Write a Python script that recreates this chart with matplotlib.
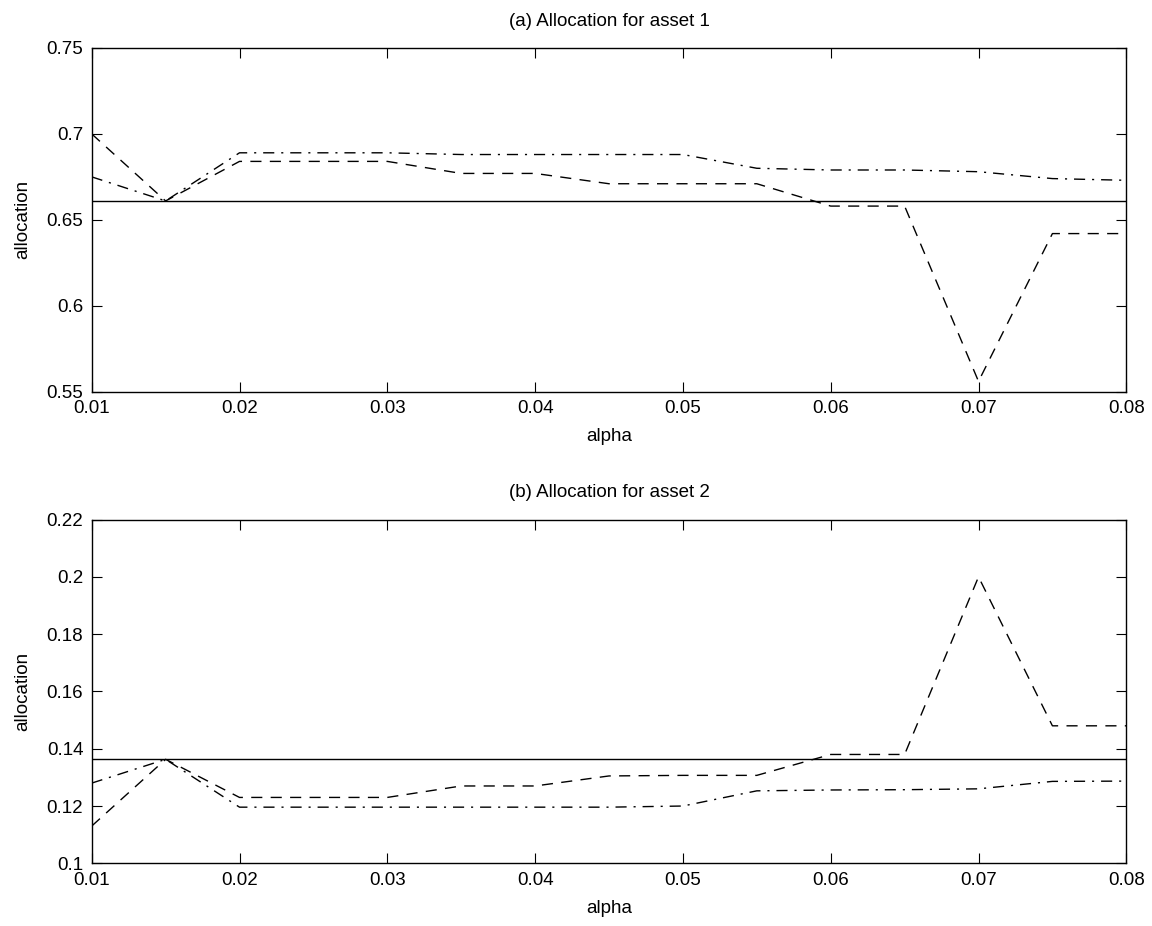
import matplotlib.pyplot as plt
from matplotlib.ticker import FuncFormatter

plt.rcParams['font.family'] = ['Liberation Sans', 'DejaVu Sans']

alpha = [0.01, 0.015, 0.02, 0.025, 0.03, 0.035, 0.04, 0.045,
         0.05, 0.055, 0.06, 0.065, 0.07, 0.075, 0.08]

# asset 1
a1_dashed = [0.700, 0.661, 0.684, 0.684, 0.684, 0.677, 0.677, 0.671,
             0.671, 0.671, 0.658, 0.658, 0.556, 0.642, 0.642]
a1_dashdot = [0.675, 0.661, 0.689, 0.689, 0.689, 0.688, 0.688, 0.688,
              0.688, 0.680, 0.679, 0.679, 0.678, 0.674, 0.673]
a1_flat = 0.661

# asset 2
a2_dashed = [0.113, 0.1363, 0.123, 0.123, 0.123, 0.127, 0.127, 0.1305,
             0.1307, 0.1307, 0.138, 0.138, 0.200, 0.148, 0.148]
a2_dashdot = [0.128, 0.1363, 0.1196, 0.1196, 0.1196, 0.1196, 0.1196, 0.1196,
              0.120, 0.1253, 0.1256, 0.1257, 0.126, 0.1286, 0.1287]
a2_flat = 0.1363

panels = [
    ('(a) Allocation for asset 1', a1_dashed, a1_dashdot, a1_flat,
     (0.55, 0.75), [0.55, 0.6, 0.65, 0.7, 0.75]),
    ('(b) Allocation for asset 2', a2_dashed, a2_dashdot, a2_flat,
     (0.1, 0.22), [0.1, 0.12, 0.14, 0.16, 0.18, 0.2, 0.22]),
]

fig = plt.figure(figsize=(11.52, 9.26), dpi=100)
boxes = [[0.0796, 0.577, 0.8981, 0.3712], [0.0796, 0.0677, 0.8981, 0.3712]]

for box, (title, dashed, dashdot, flat, ylim, yticks) in zip(boxes, panels):
    ax = fig.add_axes(box)
    ax.plot(alpha, [flat] * len(alpha), color='black', lw=1.0)
    ax.plot(alpha, dashed, color='black', lw=1.0, linestyle=(0, (8, 6)))
    ax.plot(alpha, dashdot, color='black', lw=1.0, linestyle=(0, (8, 5, 1.5, 5)))
    ax.set_xlim(0.01, 0.08)
    ax.set_ylim(*ylim)
    ax.set_yticks(yticks)
    ax.set_xticks([0.01, 0.02, 0.03, 0.04, 0.05, 0.06, 0.07, 0.08])
    ax.yaxis.set_major_formatter(FuncFormatter(lambda v, p: '%g' % round(v, 4)))
    ax.xaxis.set_major_formatter(FuncFormatter(lambda v, p: '%g' % round(v, 4)))
    ax.tick_params(direction='in', length=7, width=0.8, top=True, right=True,
                   labelsize=13.5, pad=6)
    for s in ax.spines.values():
        s.set_linewidth(1.0)
    ax.set_title(title, fontsize=13.5, pad=16)
    ax.set_xlabel('alpha', fontsize=13.5, labelpad=8)
    ax.set_ylabel('allocation', fontsize=13.5, labelpad=11)

fig.savefig('out.png', dpi=100)
